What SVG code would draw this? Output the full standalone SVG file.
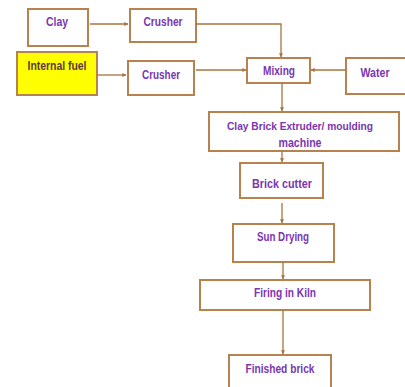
<svg xmlns="http://www.w3.org/2000/svg" width="405" height="387" viewBox="0 0 405 387">
<defs>
<marker id="ah" viewBox="0 0 6 6" refX="5.5" refY="3" markerWidth="4" markerHeight="4" orient="auto" markerUnits="userSpaceOnUse">
<path d="M0,0 L6,3 L0,6 z" fill="#a8743f"/>
</marker>
<style>
.box{fill:#ffffff;stroke:#b8824f;stroke-width:2}
.fuel{fill:#ffff00;stroke:#b8824f;stroke-width:2}
.t{font-family:"Liberation Sans",Arial,sans-serif;font-weight:bold;font-size:13px;fill:#7a35b0;text-anchor:middle}
.s{font-size:11.5px}
.tf{fill:#5a3a3a}
.c{fill:none;stroke:#a8743f;stroke-width:1.3;marker-end:url(#ah)}
</style>
</defs>
<rect width="405" height="387" fill="#ffffff"/>
<g id="clay"><rect class="box" x="28" y="9" width="60" height="37"/><text class="t" x="57" y="26" textLength="22" lengthAdjust="spacingAndGlyphs">Clay</text></g>
<g id="crusher1"><rect class="box" x="130" y="9" width="66" height="33"/><text class="t" x="163" y="26" textLength="39" lengthAdjust="spacingAndGlyphs">Crusher</text></g>
<g id="fuel"><rect class="fuel" x="17" y="52" width="80" height="43"/><text class="t tf" x="57" y="70" textLength="59" lengthAdjust="spacingAndGlyphs">Internal fuel</text></g>
<g id="crusher2"><rect class="box" x="128" y="61" width="66" height="34"/><text class="t" x="161" y="79" textLength="38" lengthAdjust="spacingAndGlyphs">Crusher</text></g>
<g id="mixing"><rect class="box" x="247" y="58" width="63" height="25"/><text class="t" x="279" y="75" textLength="32" lengthAdjust="spacingAndGlyphs">Mixing</text></g>
<g id="water"><rect class="box" x="346" y="58" width="62" height="36"/><text class="t" x="375" y="77" textLength="29" lengthAdjust="spacingAndGlyphs">Water</text></g>
<g id="extruder"><rect class="box" x="209" y="112" width="190" height="39"/><text class="t s" x="300" y="130" textLength="146" lengthAdjust="spacingAndGlyphs">Clay Brick Extruder/ moulding</text><text class="t" x="300" y="147" textLength="43" lengthAdjust="spacingAndGlyphs">machine</text></g>
<g id="cutter"><rect class="box" x="240" y="163" width="83" height="35"/><text class="t" x="282" y="188" textLength="60" lengthAdjust="spacingAndGlyphs">Brick cutter</text></g>
<g id="sundrying"><rect class="box" x="233" y="224" width="101" height="38"/><text class="t" x="283" y="241" textLength="52" lengthAdjust="spacingAndGlyphs">Sun Drying</text></g>
<g id="firing"><rect class="box" x="200" y="280" width="170" height="30"/><text class="t" x="285" y="297" textLength="62" lengthAdjust="spacingAndGlyphs">Firing in Kiln</text></g>
<g id="finished"><rect class="box" x="229" y="355" width="102" height="40"/><text class="t" x="280" y="373" textLength="69" lengthAdjust="spacingAndGlyphs">Finished brick</text></g>
<g id="connectors">
<path class="c" d="M90,24 H128"/>
<path class="c" d="M196,24 H281 V57"/>
<path class="c" d="M97,75 H126"/>
<path class="c" d="M196,70 H246"/>
<path class="c" d="M346,70 H311"/>
<path class="c" d="M282,83 V111"/>
<path class="c" d="M282,151 V162"/>
<path class="c" d="M282,203 V223"/>
<path class="c" d="M283,262 V279"/>
<path class="c" d="M283,310 V354"/>
</g>
</svg>
